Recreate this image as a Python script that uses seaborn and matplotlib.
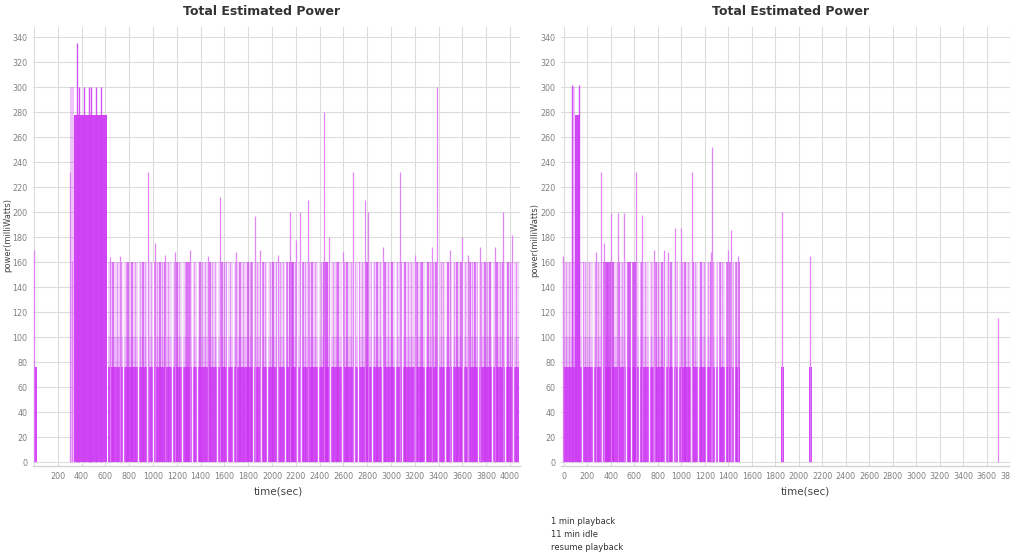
import matplotlib
matplotlib.use("Agg")
import matplotlib.pyplot as plt
import seaborn as sns

# ---------------------------------------------------------------- text
TITLE = "Total Estimated Power"
X_LABEL = "time(sec)"
Y_LABEL = "power(milliWatts)"
NOTES = ["1 min playback", "11 min idle", "resume playback"]

Y_TICKS = list(range(0, 341, 20))
LEFT_X_TICKS = list(range(0, 4001, 200))
RIGHT_X_TICKS = list(range(0, 3801, 200))

# ---------------------------------------------------------------- power levels (mW)
BASE_LEVEL = 76      # screen-on floor
MID_LEVEL = 100      # decode level
BAND_LEVEL = 160     # decode + radio level
PEAK_LEVEL = 278     # start-up plateau
TALL_LEVEL = 300

# ---------------------------------------------------------------- run 1 : continuous playback
left_base_only = [(0, 25)]
left_active = [(620, 4075)]
left_tall_runs = [(300, 336)]
left_peak_runs = [(336, 613)]
left_peak_spike_t = [361, 375, 420, 460, 480, 520, 560]
left_peak_spike_p = [335, 300, 300, 300, 300, 300, 300]
left_idle_t = [748, 874, 950, 1000, 1160, 1244, 1328, 1370, 1538, 1622, 1672, 1840,
               1905, 1958, 2042, 2109, 2210, 2245, 2387, 2487, 2588, 2690, 2723, 2840,
               2924, 3034, 3092, 3202, 3286, 3395, 3454, 3513, 3605, 3647, 3731, 3849,
               3958, 4025]
left_stripe_t = [664, 790, 823, 916, 1016, 1058, 1100, 1201, 1285, 1302, 1394, 1478,
                 1579, 1621, 1730, 1798, 1831, 1924, 2008, 2041, 2125, 2167, 2176, 2260,
                 2335, 2554, 2629, 2730, 2881, 2948, 3007, 3091, 3116, 3217, 3259, 3310,
                 3380, 3478, 3553, 3585, 3660, 3704, 3788, 3835, 3889, 3945, 3982]
left_faint_t = [640, 700, 735, 770, 850, 895, 935, 980, 1035, 1080, 1130, 1175, 1220,
                1265, 1345, 1415, 1440, 1500, 1520, 1600, 1650, 1690, 1760, 1815, 1870,
                1945, 1985, 2065, 2090, 2190, 2280, 2310, 2360, 2410, 2510, 2535, 2605,
                2660, 2700, 2760, 2830, 2860, 2905, 2975, 3050, 3140, 3170, 3240, 3330,
                3355, 3420, 3440, 3500, 3530, 3620, 3680, 3720, 3760, 3810, 3870, 3915,
                4000, 4050]
left_dense_runs = [(2140, 2160), (2428, 2470), (2780, 2806)]
left_spike_t = [0, 302, 320, 637, 723, 958, 1017, 1100, 1185, 1311, 1460, 1563, 1700,
                1857, 1899, 2050, 2151, 2202, 2235, 2303, 2437, 2479, 2600, 2681, 2782,
                2807, 2933, 3076, 3200, 3345, 3387, 3500, 3597, 3650, 3748, 3874, 3941,
                4017]
left_spike_p = [170, 232, 161, 164, 165, 232, 175, 166, 168, 170, 165, 212, 168,
                197, 170, 166, 200, 178, 200, 210, 280, 180, 168, 232, 210,
                200, 172, 232, 166, 172, 300, 170, 180, 166, 172, 172, 200,
                182]

# ---------------------------------------------------------------- run 2 : playback, idle, resume
right_base_only = [(1850, 1875), (2085, 2110)]
right_active = [(-8, 1504)]
right_tall_runs = [(67, 92)]
right_peak_runs = [(92, 134)]
right_peak_spike_t = [70, 126]
right_peak_spike_p = [302, 302]
right_idle_t = [151, 244, 328, 529, 571, 638, 722, 764, 865, 932, 974, 1084, 1142,
                1210, 1285, 1310, 1369, 1420, 1453]
right_stripe_t = [160, 470, 664, 781, 832, 910, 1033, 1100, 1168, 1252, 1330, 1390,
                  1411, 1462, 1495]
right_faint_t = [20, 45, 180, 210, 265, 290, 370, 450, 495, 560, 650, 690, 740, 800,
                 850, 890, 960, 1010, 1060, 1120, 1190, 1230, 1270, 1300, 1350, 1440,
                 1480]
right_dense_runs = [(319, 428), (529, 613)]
right_spike_t = [-5, 277, 319, 345, 403, 462, 513, 613, 664, 765, 849, 890, 950, 1000,
                 1092, 1252, 1260, 1395, 1420, 1479, 1857, 2092, 3700]
right_spike_p = [165, 168, 232, 175, 199, 199, 199, 232, 198, 170, 170, 168, 187, 187,
                 232, 168, 252, 170, 186, 165, 200, 165, 115]

# ---------------------------------------------------------------- style
MAGENTA = "#cf40f5"
STRIPE = "#c92ff0"
SPIKE = "#e07af6"
GRID = "#dcdcdc"

sns.set_theme(style="whitegrid")
plt.rcParams["font.family"] = ["DejaVu Sans"]

fig = plt.figure(figsize=(10.10, 5.54), dpi=100)
W, H = 1010, 554


def add_axes(px_left, px_right, py_top, py_bottom):
    return fig.add_axes([px_left / W, 1 - py_bottom / H,
                         (px_right - px_left) / W, (py_bottom - py_top) / H])


def draw_panel(ax, base_only, active, tall_runs, peak_runs, peak_t, peak_p,
               idle_t, stripe_t, faint_t, dense_runs, spike_t, spike_p):
    for a, b in active:
        ax.fill_between([a, b], MID_LEVEL, BAND_LEVEL, color=MAGENTA, alpha=0.22, lw=0)
        ax.fill_between([a, b], BASE_LEVEL, MID_LEVEL, color=MAGENTA, alpha=0.38, lw=0)
        ax.fill_between([a, b], 0, BASE_LEVEL, color=MAGENTA, alpha=0.95, lw=0)
    for a, b in base_only:
        ax.fill_between([a, b], 0, BASE_LEVEL, color=MAGENTA, alpha=0.95, lw=0)
    for a, b in dense_runs:
        ax.fill_between([a, b], 0, BAND_LEVEL, color=STRIPE, alpha=0.7, lw=0)
    ax.vlines(faint_t, 0, BAND_LEVEL, color=STRIPE, lw=0.8, alpha=0.35)
    ax.vlines(stripe_t, 0, BAND_LEVEL, color=STRIPE, lw=1.1, alpha=0.75)
    ax.vlines(idle_t, 0, BAND_LEVEL, color="white", lw=1.0, alpha=0.9)
    ax.vlines(spike_t, 0, spike_p, color=SPIKE, lw=0.9, alpha=0.9)
    for a, b in tall_runs:
        ax.fill_between([a, b], 0, TALL_LEVEL, color=MAGENTA, alpha=0.3, lw=0)
    for a, b in peak_runs:
        ax.fill_between([a, b], 0, PEAK_LEVEL, color=MAGENTA, alpha=0.97, lw=0)
    ax.vlines(peak_t, 0, peak_p, color=MAGENTA, lw=1.0, alpha=0.9)


def style_axes(ax, xlim, xticks, hide_zero):
    ax.set_xlim(*xlim)
    ax.set_ylim(-3, 348)
    ax.set_yticks(Y_TICKS)
    ax.set_xticks(xticks)
    labels = [str(t) for t in xticks]
    if hide_zero:
        labels[0] = ""
    ax.set_xticklabels(labels)
    ax.grid(True, color=GRID, lw=0.8)
    ax.set_axisbelow(True)
    ax.tick_params(axis="both", length=0, labelsize=5.8, colors="#808080")
    ax.tick_params(axis="x", pad=4)
    ax.tick_params(axis="y", pad=4)
    for side in ("top", "right", "left"):
        ax.spines[side].set_visible(False)
    ax.spines["bottom"].set_color("#cfd6cf")
    ax.spines["bottom"].set_linewidth(1.0)
    ax.set_facecolor("white")


ax_l = add_axes(33, 520, 27, 466)
draw_panel(ax_l, left_base_only, left_active, left_tall_runs, left_peak_runs,
           left_peak_spike_t, left_peak_spike_p, left_idle_t, left_stripe_t,
           left_faint_t, left_dense_runs, left_spike_t, left_spike_p)
style_axes(ax_l, (-8, 4084), LEFT_X_TICKS, hide_zero=True)

ax_r = add_axes(561, 1010, 27, 466)
draw_panel(ax_r, right_base_only, right_active, right_tall_runs, right_peak_runs,
           right_peak_spike_t, right_peak_spike_p, right_idle_t, right_stripe_t,
           right_faint_t, right_dense_runs, right_spike_t, right_spike_p)
style_axes(ax_r, (-25, 3748), RIGHT_X_TICKS, hide_zero=False)

# titles, axis labels and notes
for cx in (262, 791):
    fig.text(cx / W, 1 - 15 / H, TITLE, ha="center", va="baseline",
             fontsize=9, fontweight="bold", color="#333333")
for cx in (278, 805):
    fig.text(cx / W, 1 - 492 / H, X_LABEL, ha="center", va="center",
             fontsize=7.5, color="#444444")
for cx, cy in ((8, 235), (535, 240)):
    fig.text(cx / W, 1 - cy / H, Y_LABEL, ha="center", va="center",
             rotation=90, fontsize=6, color="#444444")
for i, line in enumerate(NOTES):
    fig.text(551 / W, 1 - (522 + 12.5 * i) / H, line, ha="left", va="center",
             fontsize=6, color="#333333")

fig.savefig("out.png", dpi=100, facecolor="white")
